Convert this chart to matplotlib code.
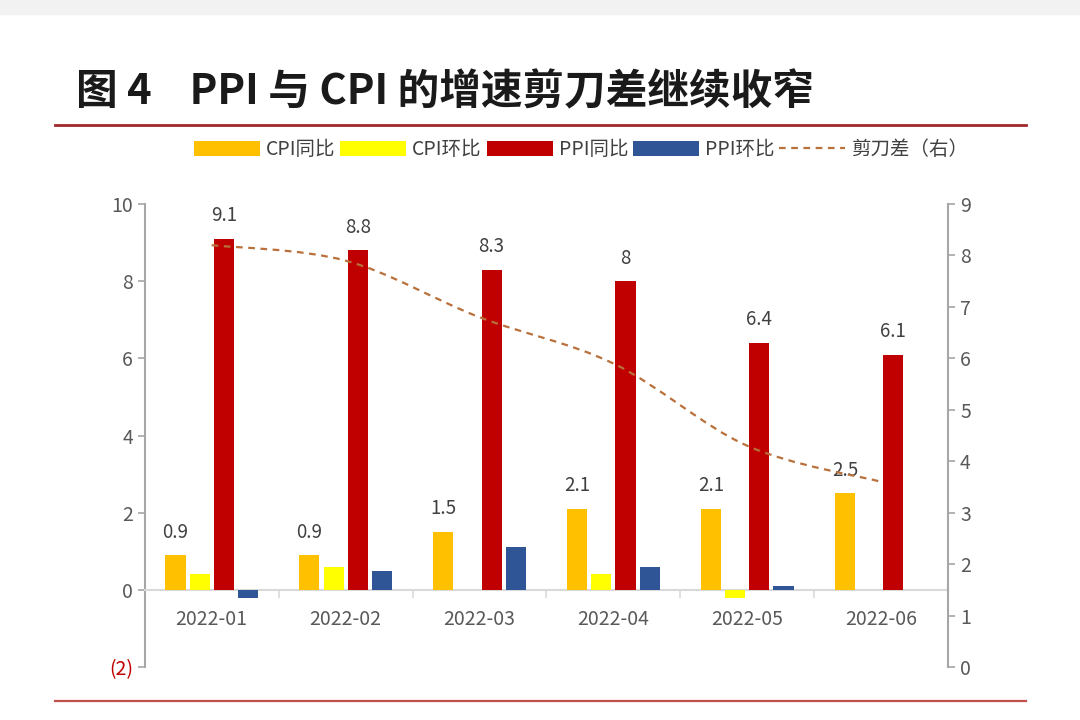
import numpy as np
import matplotlib.pyplot as plt
from matplotlib.path import Path
from matplotlib.patches import PathPatch, Rectangle
from matplotlib.lines import Line2D

plt.rcParams['font.family'] = ['Noto Sans CJK SC', 'DejaVu Sans']

# data
months = ['2022-01', '2022-02', '2022-03', '2022-04', '2022-05', '2022-06']
cpi_yoy = [0.9, 0.9, 1.5, 2.1, 2.1, 2.5]
cpi_mom = [0.4, 0.6, 0.0, 0.4, -0.2, 0.0]
ppi_yoy = [9.1, 8.8, 8.3, 8.0, 6.4, 6.1]
ppi_mom = [-0.2, 0.5, 1.1, 0.6, 0.1, 0.0]
gap = [8.2, 7.9, 6.8, 5.9, 4.3, 3.6]

c_cpi_yoy = '#FFC000'
c_cpi_mom = '#FFFF00'
c_ppi_yoy = '#C00000'
c_ppi_mom = '#2F5597'
c_gap = '#B9703A'
grey = '#595959'

fig = plt.figure(figsize=(10.8, 7.2), dpi=100)
ax = fig.add_axes([0.134, 0.0736, 0.744, 0.643])
ax2 = ax.twinx()

x = np.arange(len(months))
w = 0.15
step = 0.18
series = [(cpi_yoy, c_cpi_yoy, 'CPI同比'), (cpi_mom, c_cpi_mom, 'CPI环比'),
          (ppi_yoy, c_ppi_yoy, 'PPI同比'), (ppi_mom, c_ppi_mom, 'PPI环比')]
handles = []
for i, (vals, col, lab) in enumerate(series):
    b = ax.bar(x + (i - 1.5) * step, vals, width=w, color=col, label=lab, zorder=3)
    handles.append(b)

# value labels on yoy bars
for vals, i in [(cpi_yoy, 0), (ppi_yoy, 2)]:
    for xi, v in zip(x, vals):
        ax.annotate(f'{v:g}', (xi + (i - 1.5) * step, v), xytext=(0, 9),
                    textcoords='offset points', ha='center', va='bottom',
                    fontsize=13.5, color='#404040', zorder=5)

ax.set_xlim(-0.5, 5.5)
ax.set_ylim(-2, 10)
ax2.set_ylim(0, 9)

# smooth dashed line (Catmull-Rom -> bezier)
pts = np.column_stack([x, gap]).astype(float)
verts = [pts[0]]
codes = [Path.MOVETO]
for k in range(len(pts) - 1):
    p0 = pts[k - 1] if k > 0 else pts[k]
    p1, p2 = pts[k], pts[k + 1]
    p3 = pts[k + 2] if k + 2 < len(pts) else pts[k + 1]
    verts += [p1 + (p2 - p0) / 6, p2 - (p3 - p1) / 6, p2]
    codes += [Path.CURVE4] * 3
ax2.add_patch(PathPatch(Path(verts, codes), fill=False, edgecolor=c_gap,
                        lw=1.6, linestyle=(0, (3, 2.5)), zorder=4))
line_h = Line2D([], [], color=c_gap, lw=1.6, linestyle=(0, (3, 2.5)))

# axes styling
for a in (ax, ax2):
    a.spines['top'].set_visible(False)
    a.spines['left'].set_color('#A6A6A6')
    a.spines['right'].set_color('#A6A6A6')
    a.spines['bottom'].set_visible(False)
    a.spines['left'].set_linewidth(1.5)
    a.spines['right'].set_linewidth(1.5)
ax2.spines['left'].set_visible(False)
ax.spines['right'].set_visible(False)
ax.spines['bottom'].set_visible(True)
ax.spines['bottom'].set_position(('data', 0))
ax.spines['bottom'].set_color('#D9D9D9')
ax.spines['bottom'].set_linewidth(1.5)

ax.set_yticks(range(-2, 11, 2))
ax.set_yticklabels(['(2)'] + [str(v) for v in range(0, 11, 2)])
ax.tick_params(axis='y', colors='#A6A6A6', labelcolor=grey, labelsize=14,
               length=5, width=1.2)
ax.get_yticklabels()[0].set_color('#C00000')
ax2.set_yticks(range(0, 10))
ax2.tick_params(axis='y', colors='#A6A6A6', labelcolor=grey, labelsize=14,
                length=5, width=1.2)

ax.set_xticks(np.arange(0.5, 5, 1))
ax.set_xticklabels([])
ax.set_xticks(x, minor=True)
ax.set_xticklabels(months, minor=True)
ax.tick_params(axis='x', which='major', colors='#D9D9D9', length=6, width=1.2)
ax.tick_params(axis='x', which='minor', length=0, pad=14, labelsize=14,
               labelcolor=grey)

# title and rules
fig.text(0.07, 0.872, '图 4    PPI 与 CPI 的增速剪刀差继续收窄', fontsize=30,
         fontweight='bold', color='#1a1a1a', va='center', ha='left')
fig.add_artist(Line2D([0.051, 0.95], [0.826, 0.826], color='#A0282A', lw=2))
fig.add_artist(Line2D([0.051, 0.95], [0.027, 0.027], color='#C0504D', lw=1.6))
fig.patches.append(Rectangle((0, 0.98), 1, 0.02, transform=fig.transFigure,
                             color='#F2F2F2', zorder=0))

fig.legend(handles + [line_h], ['CPI同比', 'CPI环比', 'PPI同比', 'PPI环比', '剪刀差（右）'],
           loc='center', bbox_to_anchor=(0.538, 0.792), ncol=5, frameon=False,
           fontsize=14, handlelength=3.4, handleheight=0.8, handletextpad=0.3,
           columnspacing=0.25, labelcolor='#404040')

fig.savefig('out.png', dpi=100)
